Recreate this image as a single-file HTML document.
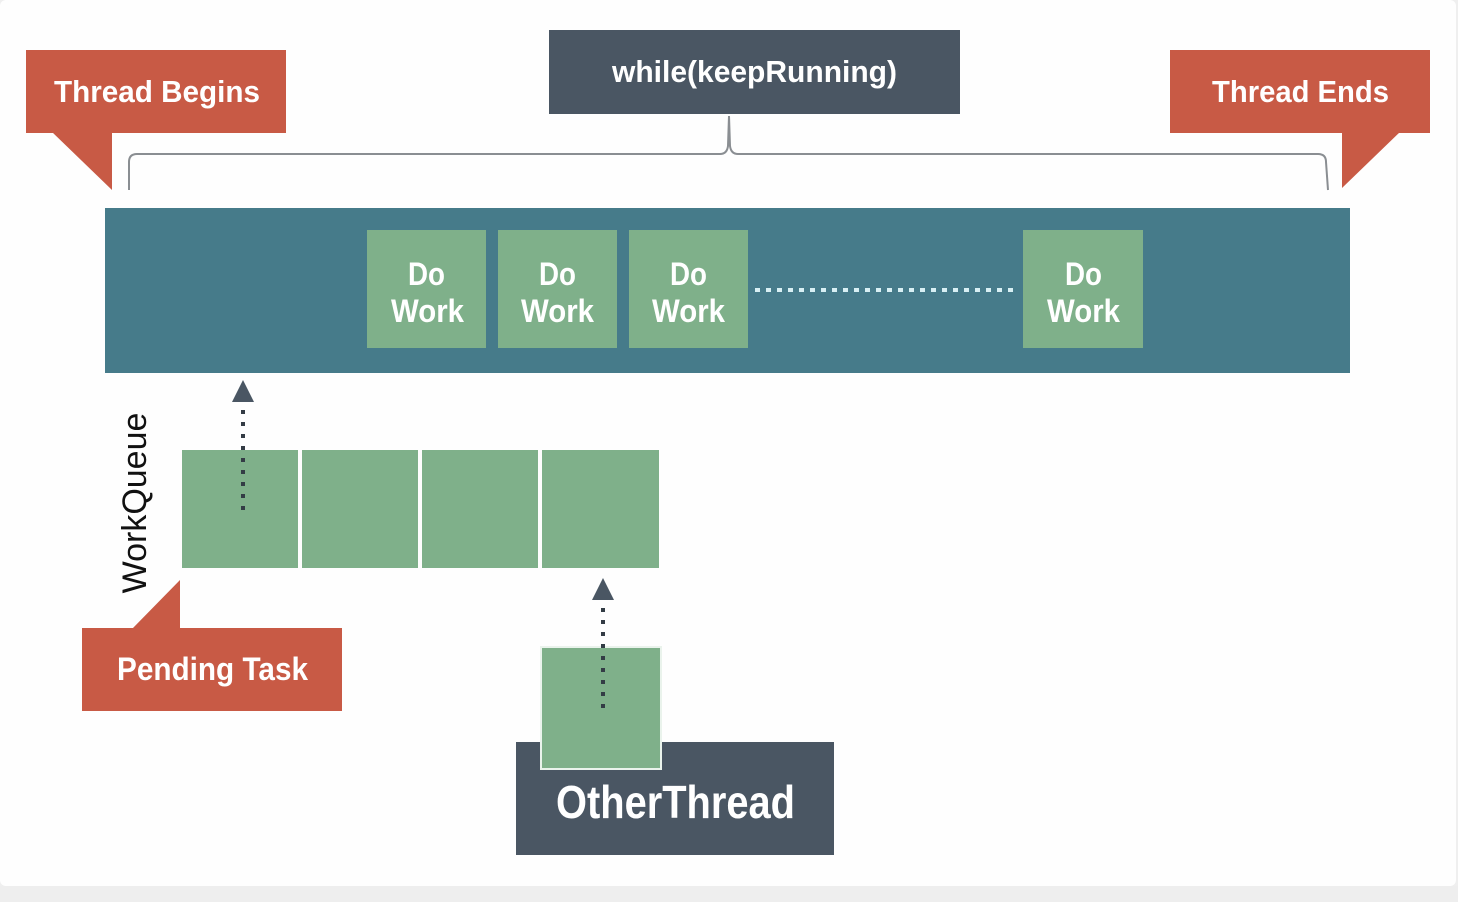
<!DOCTYPE html>
<html><head><meta charset="utf-8"><style>
html,body{margin:0;padding:0;background:#efefef;}
body{width:1458px;height:902px;overflow:hidden;}
svg{display:block}
.b{font-family:"Liberation Sans",sans-serif;font-weight:bold;fill:#fff;}
</style></head><body>
<svg width="1458" height="902" viewBox="0 0 1458 902" xmlns="http://www.w3.org/2000/svg">
<rect x="0" y="886" width="1458" height="16" fill="#eeeeee"/>
<rect x="0" y="0" width="1456" height="886" rx="6" fill="#fefefe"/>
<!-- Thread Begins -->
<rect x="26" y="50" width="260" height="83" fill="#c85a45"/>
<polygon points="52,132 112,132 112,190" fill="#c85a45"/>
<text x="54" y="102" class="b" font-size="31" textLength="206" lengthAdjust="spacingAndGlyphs">Thread Begins</text>
<!-- Thread Ends -->
<rect x="1170" y="50" width="260" height="83" fill="#c85a45"/>
<polygon points="1342,132 1400,132 1342,188" fill="#c85a45"/>
<text x="1212" y="102" class="b" font-size="31" textLength="177" lengthAdjust="spacingAndGlyphs">Thread Ends</text>
<!-- while -->
<rect x="549" y="30" width="411" height="84" fill="#4a5663"/>
<text x="612" y="82" class="b" font-size="31" textLength="285" lengthAdjust="spacingAndGlyphs">while(keepRunning)</text>
<!-- bracket -->
<path d="M129,190 L129,162 Q129,154 137,154 L720,154 Q727,154 728,146 L729,116 L730,146 Q731,154 738,154 L1318,154 Q1326,154 1326,162 L1328,190" fill="none" stroke="#8a8e92" stroke-width="2"/>
<!-- teal bar -->
<rect x="105" y="208" width="1245" height="165" fill="#467b8a"/>
<g fill="#7fb08a">
<rect x="367" y="230" width="119" height="118"/>
<rect x="498" y="230" width="119" height="118"/>
<rect x="629" y="230" width="119" height="118"/>
<rect x="1023" y="230" width="120" height="118"/>
</g>
<g class="b" font-size="32" lengthAdjust="spacingAndGlyphs">
<text x="408" y="285" textLength="37" lengthAdjust="spacingAndGlyphs">Do</text><text x="391" y="322" textLength="73" lengthAdjust="spacingAndGlyphs">Work</text>
<text x="539" y="285" textLength="37" lengthAdjust="spacingAndGlyphs">Do</text><text x="521" y="322" textLength="73" lengthAdjust="spacingAndGlyphs">Work</text>
<text x="670" y="285" textLength="37" lengthAdjust="spacingAndGlyphs">Do</text><text x="652" y="322" textLength="73" lengthAdjust="spacingAndGlyphs">Work</text>
<text x="1065" y="285" textLength="37" lengthAdjust="spacingAndGlyphs">Do</text><text x="1047" y="322" textLength="73" lengthAdjust="spacingAndGlyphs">Work</text>
</g>
<line x1="755" y1="290" x2="1018" y2="290" stroke="#d8f0f4" stroke-width="4" stroke-dasharray="5,6"/>
<!-- queue -->
<g fill="#7fb08a">
<rect x="182" y="450" width="116" height="118"/>
<rect x="302" y="450" width="116" height="118"/>
<rect x="422" y="450" width="116" height="118"/>
<rect x="542" y="450" width="117" height="118"/>
</g>
<text transform="translate(146,503) rotate(-90)" font-family="Liberation Sans,sans-serif" font-size="34" fill="#111" text-anchor="middle">WorkQueue</text>
<!-- arrow 1 -->
<polygon points="243,380 232,402 254,402" fill="#4a5663"/>
<line x1="243" y1="410" x2="243" y2="512" stroke="#333c45" stroke-width="4" stroke-dasharray="4,8"/>
<!-- Pending -->
<rect x="82" y="628" width="260" height="83" fill="#c85a45"/>
<polygon points="132,629 180,580 180,629" fill="#c85a45"/>
<text x="117" y="680" class="b" font-size="32" textLength="191" lengthAdjust="spacingAndGlyphs">Pending Task</text>
<!-- OtherThread -->
<rect x="516" y="742" width="318" height="113" fill="#4a5663"/>
<rect x="540" y="646" width="122" height="124" fill="#eaf3ec"/>
<rect x="542" y="648" width="118" height="120" fill="#7fb08a"/>
<text x="556" y="818" class="b" font-size="46" textLength="239" lengthAdjust="spacingAndGlyphs">OtherThread</text>
<polygon points="603,578 592,600 614,600" fill="#4a5663"/>
<line x1="603" y1="608" x2="603" y2="710" stroke="#333c45" stroke-width="4" stroke-dasharray="4,8"/>
</svg>
</body></html>
